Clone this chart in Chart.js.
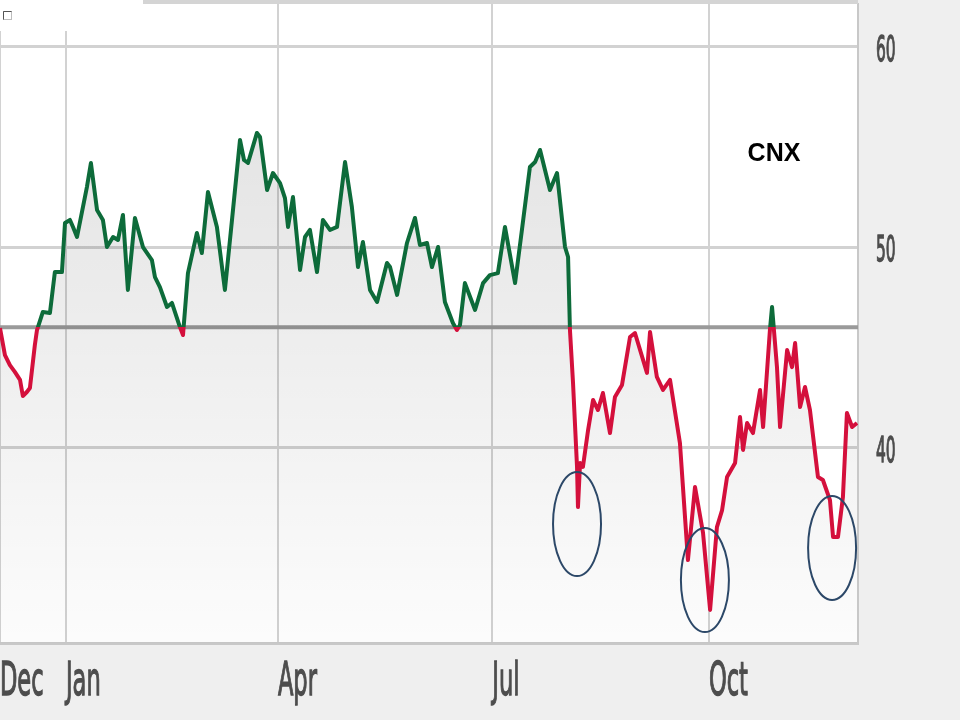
<!DOCTYPE html>
<html>
<head>
<meta charset="utf-8">
<script src="https://cdn.jsdelivr.net/npm/chart.js@4"></script>
<style>
  html, body { margin: 0; padding: 0; background: #efefef; }
  #wrap { position: relative; width: 960px; height: 720px; }
</style>
</head>
<body>
<div id="wrap"><canvas id="myChart"></canvas></div>
<script>
// days counted from Jan 1 (negative = previous December)
const days = [
  -28.0, -25.9, -23.8, -21.7, -19.5, -18.3, -16.6, -15.3, -13.2, -12.3,
  -9.8, -6.8, -4.7, -1.7, -0.4, 1.7, 3.0, 4.7, 8.9, 10.6,
  13.2, 15.7, 17.4, 20.0, 22.1, 24.2, 26.3, 29.3, 32.7, 36.5,
  37.8, 39.9, 42.9, 45.0, 48.4, 49.7, 51.8, 55.6, 57.7, 60.3,
  64.1, 67.5, 70.5, 73.9, 75.6, 77.3, 81.1, 82.4, 85.4, 87.9,
  90.9, 93.0, 94.3, 96.4, 99.4, 101.5, 103.6, 106.6, 109.1, 112.1,
  115.1, 118.5, 121.4, 124.0, 126.1, 129.1, 132.1, 136.3, 137.6, 140.6,
  144.8, 148.2, 150.3, 153.3, 155.4, 158.0, 160.9, 164.3, 166.0, 167.3,
  169.4, 173.7, 177.1, 180.0, 183.4, 186.4, 190.7, 193.6, 197.0, 199.2,
  201.3, 205.5, 208.5, 211.9, 213.2, 214.0, 215.3, 217.0, 217.4, 218.3,
  219.5, 221.7, 223.8, 225.9, 228.0, 231.0, 233.1, 236.1, 239.5, 241.6,
  246.7, 248.0, 250.9, 253.5, 256.5, 260.7, 264.1, 267.1, 270.5, 273.5,
  276.4, 278.6, 280.7, 284.1, 286.2, 287.5, 289.2, 291.7, 294.7, 296.0,
  298.9, 299.8, 301.9, 303.2, 306.2, 308.3, 309.6, 311.7, 313.8, 315.9,
  319.3, 321.4, 324.4, 325.7, 327.8, 329.9, 331.6, 333.8, 335.9
];
const prices = [
  45.96, 44.61, 44.11, 43.77, 43.37, 42.57, 42.77, 42.97, 45.11, 45.86,
  46.76, 46.71, 48.75, 48.75, 51.20, 51.35, 51.00, 50.50, 52.99, 54.19,
  51.85, 51.35, 50.00, 50.50, 50.35, 51.60, 47.86, 51.45, 50.00, 49.35,
  48.50, 48.00, 47.01, 47.21, 46.01, 45.61, 48.70, 50.70, 49.70, 52.74,
  51.00, 47.86, 51.35, 55.34, 54.34, 54.19, 55.69, 55.49, 52.84, 53.69,
  53.19, 52.44, 51.00, 52.49, 48.85, 50.50, 50.85, 48.75, 51.35, 50.85,
  51.00, 54.24, 52.00, 49.00, 50.25, 47.86, 47.26, 49.20, 49.00, 47.61,
  50.20, 51.45, 50.10, 50.20, 49.00, 50.00, 47.26, 46.21, 45.86, 46.11,
  48.20, 46.86, 48.20, 48.60, 48.70, 51.00, 48.20, 50.85, 53.99, 54.24,
  54.84, 52.84, 53.69, 50.00, 49.50, 45.86, 43.22, 39.03, 37.03, 39.23,
  39.03, 40.87, 42.37, 41.87, 42.72, 40.72, 42.52, 43.12, 45.51, 45.71,
  43.72, 45.76, 43.52, 42.87, 43.37, 40.22, 34.39, 38.03, 35.74, 31.90,
  36.03, 36.88, 38.53, 39.23, 41.52, 39.88, 41.22, 40.72, 42.87, 41.02,
  45.86, 47.01, 44.01, 41.02, 44.86, 44.01, 45.21, 42.02, 43.02, 41.87,
  38.53, 38.38, 37.38, 35.54, 35.54, 37.53, 41.72, 41.02, 41.22
];

const tickDays = [-28, 0, 90, 181, 273];
const tickLabels = ["Dec", "Jan", "Apr", "Jul", "Oct"];
const yTicks = [40, 50, 60];
const baseline = 46;

// centres of the circled dips (day, price)
const circleDays = [217.0, 271.3, 325.3];
const circleValues = [36.18, 33.39, 34.99];

const GREEN = "#0d6b3a";
const RED = "#d4103c";
const LABEL_FAMILY = '"DejaVu Sans", Verdana, sans-serif';
// horizontal squeeze of the tick labels (the source image is stretched)
const squeeze = { x: 0.48, y: 0.43 };
const labelShift = { x: 2, y: 5 };

// linear scale that draws its tick labels horizontally condensed
class CondensedLinearScale extends Chart.LinearScale {
  static id = "condensedLinear";
  static defaults = Chart.LinearScale.defaults;

  drawLabels(chartArea) {
    const ctx = this.ctx;
    const sx = squeeze[this.id] || 1;
    const dy = labelShift[this.id] || 0;
    const items = this.getLabelItems(chartArea);
    for (const item of items) {
      const o = item.options;
      ctx.save();
      ctx.translate(o.translation[0], o.translation[1] + dy);
      ctx.rotate(o.rotation);
      ctx.scale(sx, 1);
      ctx.font = item.font.string;
      ctx.fillStyle = o.color;
      ctx.strokeStyle = o.color;
      ctx.lineWidth = 1.4;
      ctx.textAlign = o.textAlign;
      ctx.textBaseline = o.textBaseline;
      ctx.fillText(item.label, 0, item.textOffset);
      ctx.strokeText(item.label, 0, item.textOffset);
      ctx.restore();
    }
  }
}
Chart.register(CondensedLinearScale);

function noPadding(scale) {
  scale.paddingLeft = 0;
  scale.paddingRight = 0;
  scale.paddingTop = 0;
  scale.paddingBottom = 0;
}

function splitGradient(ctx) {
  const chart = ctx.chart;
  const area = chart.chartArea;
  if (!area) return GREEN;
  const py = chart.scales.y.getPixelForValue(baseline);
  const f = Math.min(1, Math.max(0, (py - area.top) / (area.bottom - area.top)));
  const g = chart.ctx.createLinearGradient(0, area.top, 0, area.bottom);
  g.addColorStop(0, GREEN);
  g.addColorStop(f, GREEN);
  g.addColorStop(f, RED);
  g.addColorStop(1, RED);
  return g;
}

function fillGradient(ctx) {
  const chart = ctx.chart;
  const area = chart.chartArea;
  if (!area) return "rgba(0,0,0,0.08)";
  const g = chart.ctx.createLinearGradient(0, area.top, 0, area.bottom);
  g.addColorStop(0, "rgba(0,0,0,0.13)");
  g.addColorStop(0.5, "rgba(0,0,0,0.07)");
  g.addColorStop(1, "rgba(0,0,0,0.01)");
  return g;
}

const decorations = {
  id: "decorations",
  beforeDraw(chart) {
    const { ctx, chartArea: a } = chart;
    ctx.save();
    ctx.fillStyle = "#ffffff";
    ctx.fillRect(a.left, a.top, a.right - a.left, a.bottom - a.top);
    ctx.restore();
  },
  beforeDatasetsDraw(chart) {
    const { ctx, chartArea: a, scales } = chart;
    const py = scales.y.getPixelForValue(baseline);
    ctx.save();
    ctx.strokeStyle = "#9a9a9a";
    ctx.lineWidth = 4;
    ctx.beginPath();
    ctx.moveTo(a.left, py);
    ctx.lineTo(a.right, py);
    ctx.stroke();
    ctx.restore();
  },
  afterDraw(chart) {
    const { ctx, chartArea: a, scales } = chart;
    ctx.save();
    // top frame line
    ctx.strokeStyle = "#d4d4d4";
    ctx.lineWidth = 4;
    ctx.beginPath();
    ctx.moveTo(a.left, a.top - 2);
    ctx.lineTo(a.right, a.top - 2);
    ctx.stroke();
    // circled dips
    ctx.strokeStyle = "#2c4868";
    ctx.lineWidth = 2;
    circleDays.forEach((d, i) => {
      const cx = scales.x.getPixelForValue(d);
      const cy = scales.y.getPixelForValue(circleValues[i]);
      ctx.beginPath();
      ctx.ellipse(cx, cy, 24, 52, 0, 0, Math.PI * 2);
      ctx.stroke();
    });
    // ticker label
    ctx.fillStyle = "#000000";
    ctx.font = 'bold 25px "Liberation Sans", Arial, sans-serif';
    ctx.textAlign = "center";
    ctx.textBaseline = "middle";
    ctx.fillText("CNX", a.left + 774, 154);
    // legend box top-left
    ctx.fillStyle = "#ffffff";
    ctx.fillRect(0, 0, 143, 31);
    ctx.strokeStyle = "#bdbdbd";
    ctx.lineWidth = 1;
    ctx.strokeRect(3.5, 11.5, 8, 8);
    ctx.strokeStyle = "#555555";
    ctx.beginPath();
    ctx.moveTo(3.5, 19.5);
    ctx.lineTo(3.5, 11.5);
    ctx.lineTo(11.5, 11.5);
    ctx.stroke();
    ctx.restore();
  }
};

new Chart(document.getElementById("myChart"), {
  type: "line",
  data: {
    datasets: [
      {
        label: "CNX",
        data: days.map((d, i) => ({ x: d, y: prices[i] })),
        borderColor: splitGradient,
        backgroundColor: fillGradient,
        borderWidth: 4,
        borderJoinStyle: "round",
        fill: "start",
        tension: 0,
        pointRadius: 0,
      },
    ],
  },
  options: {
    responsive: true,
    maintainAspectRatio: false,
    animation: false,
    layout: { padding: { top: 4, left: 0, right: 0, bottom: 0 } },
    plugins: {
      legend: { display: false },
      tooltip: { enabled: false },
    },
    scales: {
      x: {
        type: "condensedLinear",
        min: -28,
        max: 336.3,
        afterBuildTicks: (scale) => {
          scale.ticks = tickDays.map((v) => ({ value: v }));
        },
        afterFit: (scale) => {
          scale.height = 77;
          noPadding(scale);
        },
        ticks: {
          align: "start",
          padding: 10,
          color: "#4d4d4d",
          font: { family: LABEL_FAMILY, size: 47 },
          maxRotation: 0,
          autoSkip: false,
          callback: (v) => tickLabels[tickDays.indexOf(v)],
        },
        grid: { color: "#d2d2d2", lineWidth: 2, drawTicks: false },
        border: { color: "#c8c8c8", width: 3 },
      },
      y: {
        type: "condensedLinear",
        position: "right",
        min: 30.25,
        max: 62.12,
        afterBuildTicks: (scale) => {
          scale.ticks = yTicks.map((v) => ({ value: v }));
        },
        afterFit: (scale) => {
          scale.width = 102;
          noPadding(scale);
        },
        ticks: {
          padding: 18,
          color: "#4d4d4d",
          font: { family: LABEL_FAMILY, size: 36 },
        },
        grid: { color: "#d2d2d2", lineWidth: 3, drawTicks: false },
        border: { color: "#c8c8c8", width: 2 },
      },
    },
  },
  plugins: [decorations],
});
</script>
</body>
</html>
